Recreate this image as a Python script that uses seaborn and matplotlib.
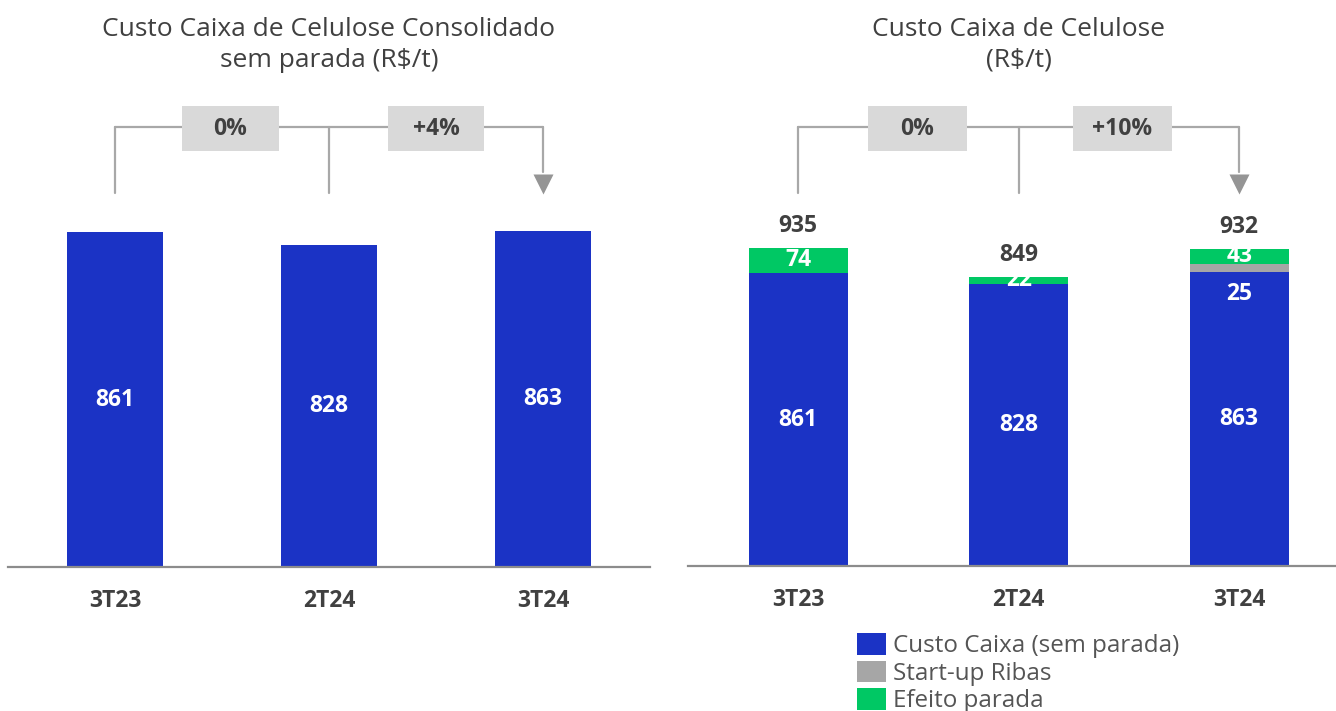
import matplotlib
matplotlib.use("Agg")
import matplotlib.pyplot as plt
import matplotlib.transforms as mtransforms
from matplotlib.patches import Rectangle, Patch
import pandas as pd
import seaborn as sns

# --- data ---
categories = ["3T23", "2T24", "3T24"]
custo_sem_parada = [861, 828, 863]
startup_ribas = [0, 0, 25]
efeito_parada = [74, 22, 43]
total_labels = ["935", "849", "932"]
var_left = ["0%", "+4%"]
var_right = ["0%", "+10%"]
title_left = "Custo Caixa de Celulose Consolidado\nsem parada (R$/t)"
title_right = "Custo Caixa de Celulose\n(R$/t)"
legend_labels = ["Custo Caixa (sem parada)", "Start-up Ribas", "Efeito parada"]

BLUE = "#1b33c5"
GRAY = "#a6a6a6"
GREEN = "#00c864"
TXT = "#404040"
LINE = "#a8a8a8"
BOX = "#d9d9d9"
FS = 16.5

df = pd.DataFrame({
    "tri": categories,
    "custo": custo_sem_parada,
    "startup": startup_ribas,
    "parada": efeito_parada,
})
df["lvl2"] = df.custo + df.startup
df["lvl3"] = df.lvl2 + df.parada

sns.set_theme(style="white")
plt.rcParams["font.family"] = ["Open Sans", "DejaVu Sans"]

W, H = 1336, 711
fig = plt.figure(figsize=(W / 100, H / 100), dpi=100)
ax1 = fig.add_axes([8 / W, (H - 567) / H, 642 / W, 567 / H])
ax2 = fig.add_axes([688 / W, (H - 566) / H, 661.5 / W, 566 / H])

BW = 0.45

# left: single bars
sns.barplot(data=df, x="tri", y="custo", color=BLUE, saturation=1, width=BW,
            linewidth=0, ax=ax1)
ax1.set_ylim(0, 567 / 0.389)

# right: stacked bars (drawn from top level down)
sns.barplot(data=df, x="tri", y="lvl3", color=GREEN, saturation=1, width=BW,
            linewidth=0, ax=ax2)
sns.barplot(data=df, x="tri", y="lvl2", color=GRAY, saturation=1, width=BW,
            linewidth=0, ax=ax2)
sns.barplot(data=df, x="tri", y="custo", color=BLUE, saturation=1, width=BW,
            linewidth=0, ax=ax2)
ax2.set_ylim(0, 566 / 0.3403)

for ax in (ax1, ax2):
    ax.set_xlim(-0.5, 2.5)
    ax.set_xlabel("")
    ax.set_ylabel("")
    ax.set_yticks([])
    for s in ("left", "right", "top"):
        ax.spines[s].set_visible(False)
    ax.spines["bottom"].set_color("#8c8c8c")
    ax.spines["bottom"].set_linewidth(1.6)
    ax.tick_params(axis="x", length=0, pad=16)
    for lbl in ax.get_xticklabels():
        lbl.set_fontweight("bold")
        lbl.set_fontsize(FS)
        lbl.set_color(TXT)
    ax.patch.set_alpha(0)

# values inside bars
for i, v in enumerate(custo_sem_parada):
    ax1.text(i, v / 2, str(v), ha="center", va="center", color="white",
             fontsize=FS, fontweight="bold")
    ax2.text(i, v / 2, str(v), ha="center", va="center", color="white",
             fontsize=FS, fontweight="bold")

for i in range(len(categories)):
    c, s, p = custo_sem_parada[i], startup_ribas[i], efeito_parada[i]
    ax2.text(i, c + s + p / 2, str(p), ha="center", va="center", color="white",
             fontsize=FS, fontweight="bold")
    if s:
        ax2.text(i, c - 28, str(s), ha="center", va="top", color="white",
                 fontsize=FS, fontweight="bold")
    ax2.text(i, c + s + p + 30, total_labels[i], ha="center", va="bottom",
             color=TXT, fontsize=FS, fontweight="bold")


def bracket(ax, labels, box_x, title):
    tr = mtransforms.blended_transform_factory(ax.transData, ax.transAxes)
    y_top = (567 - 127) / 567
    y_bot = (567 - 193) / 567
    y_arr = (567 - 172) / 567
    ax.plot([0, 2], [y_top, y_top], color=LINE, lw=1.6, transform=tr,
            clip_on=False, zorder=1)
    ax.plot([0, 0], [y_top, y_bot], color=LINE, lw=1.6, transform=tr, clip_on=False)
    ax.plot([1, 1], [y_top, y_bot], color=LINE, lw=1.6, transform=tr, clip_on=False)
    ax.plot([2, 2], [y_top, y_arr], color=LINE, lw=1.6, transform=tr, clip_on=False)
    ax.plot([2], [(567 - 184) / 567], marker="v", ms=14, color="#959595",
            mec="none", transform=tr, clip_on=False)
    for bx, lab in zip(box_x, labels):
        ax.add_patch(Rectangle((bx - 0.225, (567 - 151) / 567), 0.45, 45 / 567,
                               transform=tr, facecolor=BOX, edgecolor="none",
                               zorder=2, clip_on=False))
        ax.text(bx, (567 - 129) / 567, lab, transform=tr, ha="center",
                va="center", fontsize=FS, fontweight="bold", color=TXT, zorder=3)
    ax.text(1, (567 - 45) / 567, title, transform=tr, ha="center", va="center",
            fontsize=19, color=TXT, linespacing=1.3)


bracket(ax1, var_left, [0.54, 1.5], title_left)
bracket(ax2, var_right, [0.54, 1.47], title_right)

handles = [Patch(facecolor=c, edgecolor="none") for c in (BLUE, GRAY, GREEN)]
fig.legend(handles, legend_labels, loc="upper left",
           bbox_to_anchor=(857 / W, (H - 633) / H), frameon=False,
           fontsize=17.4, labelcolor="#555555", handlelength=1.2,
           handleheight=1.0, handletextpad=0.3, labelspacing=0.1,
           borderpad=0, borderaxespad=0)

fig.savefig("out.png", dpi=100)
